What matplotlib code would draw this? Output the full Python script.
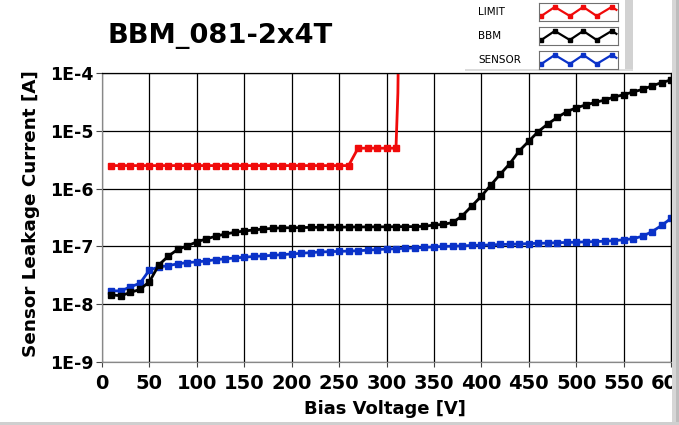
import matplotlib
matplotlib.use('Agg')
import matplotlib.pyplot as plt
from matplotlib.patches import Rectangle
from matplotlib.ticker import NullLocator

# ---------------- data ----------------
bias_v = list(range(10, 610, 10))

bbm_current = [
    1.45e-8, 1.40e-8, 1.60e-8, 1.80e-8, 2.45e-8, 4.8e-8, 6.8e-8, 8.9e-8, 1.02e-7, 1.20e-7,
    1.35e-7, 1.50e-7, 1.64e-7, 1.75e-7, 1.85e-7, 1.92e-7, 2.00e-7, 2.05e-7, 2.10e-7, 2.10e-7,
    2.12e-7, 2.13e-7, 2.14e-7, 2.15e-7, 2.15e-7, 2.16e-7, 2.17e-7, 2.17e-7, 2.18e-7, 2.18e-7,
    2.19e-7, 2.20e-7, 2.20e-7, 2.22e-7, 2.35e-7, 2.40e-7, 2.60e-7, 3.40e-7, 5.00e-7, 7.40e-7,
    1.15e-6, 1.78e-6, 2.70e-6, 4.50e-6, 6.60e-6, 9.70e-6, 1.31e-5, 1.70e-5, 2.14e-5, 2.50e-5,
    2.80e-5, 3.10e-5, 3.40e-5, 3.85e-5, 4.20e-5, 4.70e-5, 5.20e-5, 6.00e-5, 6.80e-5, 7.60e-5,
]

sensor_current = [
    1.70e-8, 1.70e-8, 2.00e-8, 2.30e-8, 3.90e-8, 4.40e-8, 4.65e-8, 5.00e-8, 5.25e-8, 5.40e-8,
    5.60e-8, 5.90e-8, 6.10e-8, 6.30e-8, 6.50e-8, 6.70e-8, 6.85e-8, 7.00e-8, 7.20e-8, 7.40e-8,
    7.60e-8, 7.80e-8, 8.00e-8, 8.10e-8, 8.20e-8, 8.30e-8, 8.40e-8, 8.60e-8, 8.80e-8, 9.00e-8,
    9.10e-8, 9.30e-8, 9.40e-8, 9.60e-8, 9.80e-8, 1.00e-7, 1.01e-7, 1.02e-7, 1.04e-7, 1.05e-7,
    1.06e-7, 1.08e-7, 1.09e-7, 1.10e-7, 1.12e-7, 1.13e-7, 1.14e-7, 1.16e-7, 1.17e-7, 1.18e-7,
    1.20e-7, 1.21e-7, 1.23e-7, 1.26e-7, 1.30e-7, 1.36e-7, 1.50e-7, 1.80e-7, 2.30e-7, 3.05e-7,
]

limit_v = list(range(10, 320, 10)) + [312, 313]
limit_current = [2.5e-6] * 26 + [5.0e-6] * 5 + [4.5e-5, 1.0e-3]
limit_marked = 31  # points drawn with markers

x_ticks = list(range(0, 650, 50))
y_ticks = [1e-9, 1e-8, 1e-7, 1e-6, 1e-5, 1e-4]
y_labels = ['1E-9', '1E-8', '1E-7', '1E-6', '1E-5', '1E-4']

title = 'BBM_081-2x4T'
x_label = 'Bias Voltage [V]'
y_label = 'Sensor Leakage Current [A]'
series_names = ['LIMIT', 'BBM', 'SENSOR']

# ---------------- style ----------------
RED = '#F00A0A'
BLACK = '#000000'
BLUE = '#0A32C8'
colors = [RED, BLACK, BLUE]
W, H = 679, 425

plt.rcParams['font.family'] = ['DejaVu Sans']

fig = plt.figure(figsize=(W / 100, H / 100), dpi=100)
fig.patch.set_facecolor('white')

ax = fig.add_axes([102 / W, 1 - 362 / H, (671 - 102) / W, (362 - 73) / H])
ax.set_yscale('log')
ax.set_xlim(0, 600)
ax.set_ylim(1e-9, 1e-4)
ax.set_xticks(x_ticks)
ax.set_xticklabels([str(t) for t in x_ticks])
ax.set_yticks(y_ticks)
ax.set_yticklabels(y_labels)
ax.yaxis.set_minor_locator(NullLocator())
ax.grid(True, color='black', lw=0.9)
ax.set_axisbelow(True)
for s in ax.spines.values():
    s.set_color('black')
    s.set_linewidth(0.9)
ax.spines['bottom'].set_color('#888888')
ax.spines['left'].set_color('#888888')

ax.tick_params(axis='x', length=3.5, width=0.8, color='#444444', pad=5,
               labelsize=14)
ax.tick_params(axis='y', length=4.5, width=0.8, color='#444444', pad=1.5,
               labelsize=12.5)
for lab in ax.get_xticklabels() + ax.get_yticklabels():
    lab.set_fontweight('bold')

mk = dict(marker='s', markersize=4.6, lw=2.0)
ax.plot(bias_v, sensor_current, color=BLUE, **mk)
ax.plot(bias_v, bbm_current, color=BLACK, **mk)
ax.plot(limit_v, limit_current, color=RED, markevery=list(range(limit_marked)), **mk)

# titles / labels
fig.text(108 / W, 1 - 36 / H, title, fontsize=19.7, fontweight='bold',
         ha='left', va='center')
fig.text(385 / W, 1 - 409 / H, x_label, fontsize=13, fontweight='bold',
         ha='center', va='center')
fig.text(31 / W, 1 - 214 / H, y_label, fontsize=13.2, fontweight='bold',
         ha='center', va='center', rotation=90)

# legend panel
fig.patches.append(Rectangle((465 / W, 1 - 70 / H), (633 - 465) / W, 70 / H,
                             transform=fig.transFigure, facecolor='white',
                             edgecolor='none', zorder=5))
fig.patches.append(Rectangle((625 / W, 1 - 70 / H), 8 / W, 70 / H,
                             transform=fig.transFigure, facecolor='#d2d2d2',
                             edgecolor='none', zorder=6))
fig.patches.append(Rectangle((465 / W, 1 - 71 / H), (633 - 465) / W, 2 / H,
                             transform=fig.transFigure, facecolor='#dcdcdc',
                             edgecolor='none', zorder=6))

GLYPH_X = [0.03, 0.20, 0.39, 0.56, 0.73, 0.92, 0.98]
GLYPH_Y = [0.28, 0.78, 0.28, 0.78, 0.28, 0.78, 0.62]
label_y = [12, 36, 60]
box_top = [3, 27, 51]
for name, col, ly, bt in zip(series_names, colors, label_y, box_top):
    fig.text(478 / W, 1 - ly / H, name, fontsize=7.5, ha='left', va='center',
             zorder=7)
    lax = fig.add_axes([539 / W, 1 - (bt + 18) / H, 79 / W, 18 / H])
    lax.set_zorder(8)
    lax.set_xlim(0, 1)
    lax.set_ylim(0, 1)
    lax.set_xticks([])
    lax.set_yticks([])
    for s in lax.spines.values():
        s.set_color('#707070')
        s.set_linewidth(0.8)
    lax.plot(GLYPH_X, GLYPH_Y, color=col, lw=1.6, marker='s', markersize=3.4,
             markevery=[0, 1, 2, 3, 4, 5], clip_on=True)

# right and bottom window frame
fig.patches.append(Rectangle((672 / W, 0), 4 / W, 1, transform=fig.transFigure,
                             facecolor='#d6d6d6', edgecolor='none', zorder=10))
fig.patches.append(Rectangle((676 / W, 0), 3 / W, 1, transform=fig.transFigure,
                             facecolor='#bdbdbd', edgecolor='none', zorder=10))
fig.patches.append(Rectangle((0, 0), 1, 3 / H, transform=fig.transFigure,
                             facecolor='#cfcfcf', edgecolor='none', zorder=10))

fig.savefig('out.png', dpi=100)
